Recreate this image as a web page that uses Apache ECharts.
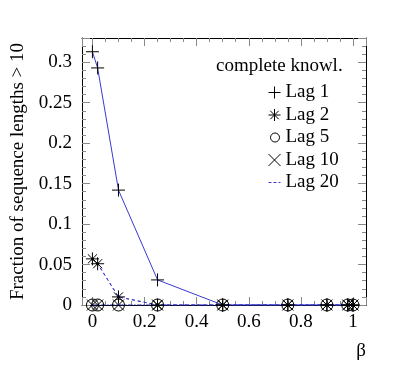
<!DOCTYPE html>
<html>
<head>
<meta charset="utf-8">
<script src="https://cdn.jsdelivr.net/npm/echarts@6/dist/echarts.min.js"></script>
<style>
html, body { margin: 0; padding: 0; background: #fff; }
#chart { width: 407px; height: 382px; }
</style>
</head>
<body>
<div id="chart"></div>
<script>
// beta values (x) and the fraction for each lag
var betas = [0, 0.02, 0.1, 0.25, 0.5, 0.75, 0.9, 0.98, 1];
var lag1 = [0.313, 0.293, 0.142, 0.031, 0, 0, 0, 0, 0];
var lag2 = [0.057, 0.051, 0.010, 0, 0, 0, 0, 0, 0];
var lag5 = [0, 0, 0, 0, 0, 0, 0, 0, 0];
var lag10 = [0, 0, 0, 0, 0, 0, 0, 0, 0];
var lag20 = [0.057, 0.051, 0.010, 0, 0, 0, 0, 0, 0];
var seriesNames = ['Lag 1', 'Lag 2', 'Lag 5', 'Lag 10', 'Lag 20'];

var FONT = 'Liberation Serif';
var BLUE = '#3a3ad0';

var PLUS = 'path://M0,5 L10,5 M5,0 L5,10';
var STAR = 'path://M0,5 L10,5 M5,0 L5,10 M1.5,1.5 L8.5,8.5 M1.5,8.5 L8.5,1.5';
var CROSS = 'path://M0,0 L10,10 M0,10 L10,0';
var CIRCLE = 'path://M0,0 M11,6 A4.5,4.5 0 1 1 2,6 A4.5,4.5 0 1 1 11,6 Z M12,12';
var DASHES = 'path://M0,0 M0,6 L3,6 M5,6 L8,6 M10,6 L12,6 M12,12';

function pairs(ys) {
    return betas.map(function (b, i) { return [b, ys[i]]; });
}

var myChart = echarts.init(document.getElementById('chart'));

var tickStyle = { color: '#888', width: 1 };
var markStyle = { color: 'transparent', borderColor: '#000', borderWidth: 1 };
var legendIcons = [PLUS, STAR, CIRCLE, CROSS, DASHES];

var option = {
    animation: false,
    backgroundColor: '#fff',
    grid: { left: 82, top: 38, right: 41, bottom: 77 },
    title: {
        text: 'complete knowl.',
        left: 216,
        top: 57,
        padding: 0,
        textStyle: { fontFamily: FONT, fontSize: 19, fontWeight: 'normal', color: '#000' }
    },
    legend: {
        orient: 'vertical',
        left: 268,
        top: 83,
        padding: 0,
        itemWidth: 12,
        itemHeight: 12,
        itemGap: 3.5,
        data: seriesNames.map(function (n, i) {
            return {
                name: n,
                icon: legendIcons[i],
                itemStyle: { color: 'transparent', borderColor: i === 4 ? BLUE : '#000', borderWidth: 1 }
            };
        }),
        textStyle: { fontFamily: FONT, fontSize: 19, color: '#000', lineHeight: 19 }
    },
    xAxis: [
        {
            type: 'value',
            min: -0.04,
            max: 1.05,
            splitNumber: 5,
            axisLine: { show: true, onZero: false, lineStyle: { color: '#000', width: 1 } },
            axisTick: { show: true, inside: true, length: 8, lineStyle: tickStyle },
            minorTick: { show: true, splitNumber: 4, length: 4, lineStyle: tickStyle },
            axisLabel: { showMinLabel: false, showMaxLabel: false, color: '#000', fontSize: 19, fontFamily: FONT, margin: 8 },
            splitLine: { show: false }
        },
        {
            type: 'value',
            position: 'top',
            min: -0.04,
            max: 1.05,
            splitNumber: 5,
            axisLine: { show: true, onZero: false, lineStyle: { color: '#000', width: 1 } },
            axisTick: { show: true, inside: true, length: 8, lineStyle: tickStyle },
            minorTick: { show: true, splitNumber: 4, length: 4, lineStyle: tickStyle },
            axisLabel: { show: false },
            splitLine: { show: false }
        }
    ],
    yAxis: [
        {
            type: 'value',
            min: 0,
            max: 0.33,
            interval: 0.05,
            name: 'Fraction of sequence lengths > 10',
            nameLocation: 'middle',
            nameGap: 33,
            nameTextStyle: { fontFamily: FONT, fontSize: 19, color: '#000' },
            axisLine: { show: true, onZero: false, lineStyle: { color: '#000', width: 1 } },
            axisTick: { show: true, inside: true, length: 8, lineStyle: tickStyle },
            minorTick: { show: true, splitNumber: 5, length: 4, lineStyle: tickStyle },
            axisLabel: { showMaxLabel: false, color: '#000', fontSize: 19, fontFamily: FONT, margin: 10 },
            splitLine: { show: false }
        },
        {
            type: 'value',
            position: 'right',
            min: 0,
            max: 0.33,
            interval: 0.05,
            axisLine: { show: true, onZero: false, lineStyle: { color: '#000', width: 1 } },
            axisTick: { show: true, inside: true, length: 8, lineStyle: tickStyle },
            minorTick: { show: true, splitNumber: 5, length: 4, lineStyle: tickStyle },
            axisLabel: { show: false },
            splitLine: { show: false }
        }
    ],
    graphic: [
        {
            type: 'text',
            right: 41,
            top: 342,
            style: { text: 'β', fontFamily: FONT, fontSize: 19, fill: '#000' }
        }
    ],
    series: [
        {
            name: 'Lag 1',
            type: 'line',
            data: pairs(lag1),
            symbol: PLUS,
            symbolSize: 13,
            itemStyle: markStyle,
            lineStyle: { color: BLUE, width: 1 }
        },
        {
            name: 'Lag 2',
            type: 'line',
            data: pairs(lag2),
            symbol: STAR,
            symbolSize: 13,
            itemStyle: markStyle,
            lineStyle: { color: BLUE, width: 1, type: [3, 3] }
        },
        {
            name: 'Lag 5',
            type: 'line',
            data: pairs(lag5),
            symbol: 'circle',
            symbolSize: 12,
            itemStyle: markStyle,
            lineStyle: { color: BLUE, width: 1, type: [1, 2] }
        },
        {
            name: 'Lag 10',
            type: 'line',
            data: pairs(lag10),
            symbol: CROSS,
            symbolSize: 11,
            itemStyle: markStyle,
            lineStyle: { color: BLUE, width: 1, type: [4, 2, 1, 2] }
        },
        {
            name: 'Lag 20',
            type: 'line',
            data: pairs(lag20),
            symbol: 'circle',
            symbolSize: 3,
            itemStyle: { color: '#000' },
            lineStyle: { color: BLUE, width: 1, type: [3, 3] }
        }
    ]
};

myChart.setOption(option);
</script>
</body>
</html>
